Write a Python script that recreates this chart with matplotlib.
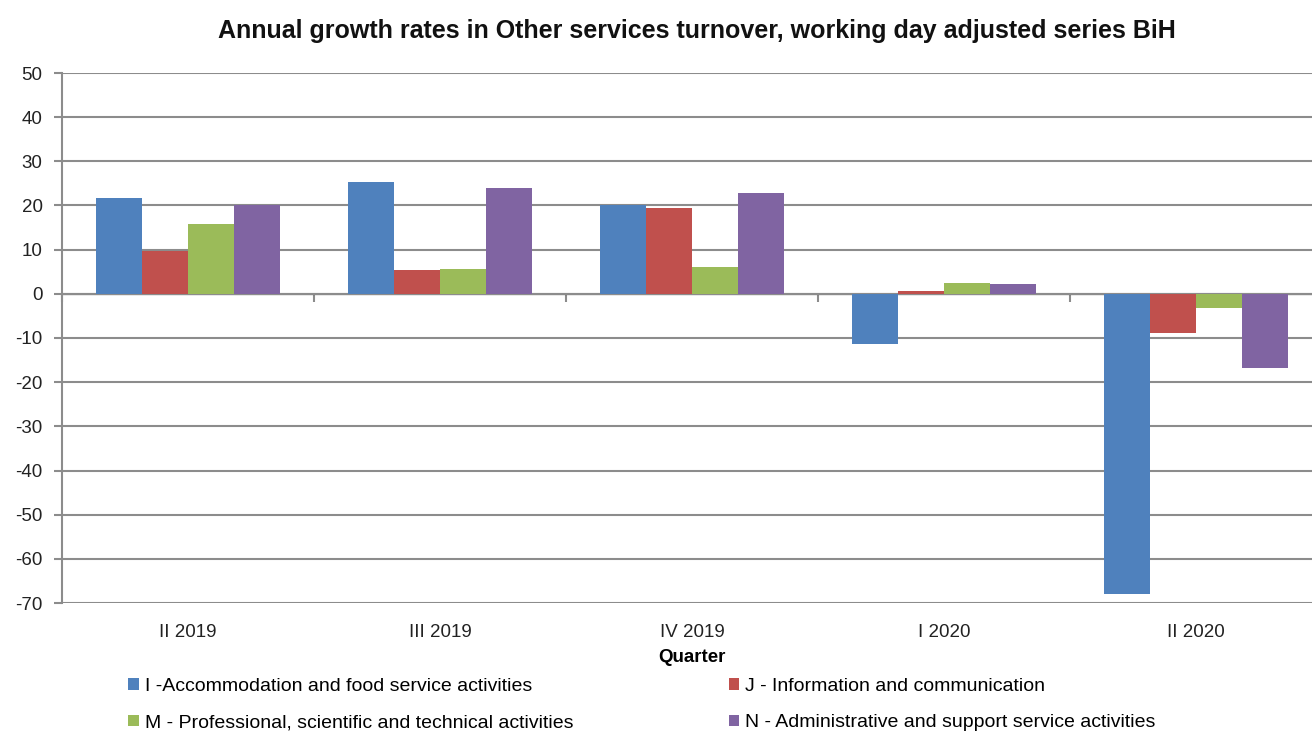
import matplotlib.pyplot as plt
import numpy as np

quarters = ['II 2019', 'III 2019', 'IV 2019', 'I 2020', 'II 2020']
series_names = ['I -Accommodation and food service activities',
                'J - Information and communication',
                'M - Professional, scientific and technical activities',
                'N - Administrative and support service activities']
accommodation = [21.6, 25.4, 20.1, -11.3, -67.9]
information = [9.8, 5.4, 19.4, 0.6, -8.8]
professional = [15.8, 5.6, 6.0, 2.5, -3.3]
administrative = [20.0, 24.0, 22.8, 2.3, -16.9]
colors = ['#4F81BD', '#C0504D', '#9BBB59', '#8064A2']

plt.rcParams['font.family'] = ['Liberation Sans', 'DejaVu Sans']
plt.rcParams['axes.unicode_minus'] = False

fig = plt.figure(figsize=(13.12, 7.33), dpi=100)
W, H = 1312, 733
ax = fig.add_axes([62 / W, 130 / H, 1260 / W, 530 / H])

x = np.arange(len(quarters))
w = 0.1825
all_series = [accommodation, information, professional, administrative]
for i, vals in enumerate(all_series):
    ax.bar(x + (i - 1.5) * w, vals, w, color=colors[i], label=series_names[i], zorder=3)

ax.set_xlim(-0.5, 4.5)
ax.set_ylim(-70, 50)
ax.set_yticks(range(-70, 51, 10))
ax.grid(axis='y', color='#8c8c8c', linewidth=1.5, zorder=0)
ax.axhline(0, color='#8c8c8c', linewidth=1.5, zorder=2)

for s in ['top', 'right', 'bottom']:
    ax.spines[s].set_visible(False)
ax.spines['left'].set_color('#8c8c8c')
ax.spines['left'].set_linewidth(1.5)
ax.tick_params(axis='y', colors='#8c8c8c', length=6, width=1.5, labelcolor='#222222', labelsize=13.5, pad=8)

ax.set_xticks(x)
ax.set_xticklabels(quarters)
ax.tick_params(axis='x', length=0, labelsize=13.5, labelcolor='#222222', pad=15)

# category boundary ticks hanging below the zero line
sec = ax.secondary_xaxis(70 / 120)
sec.set_xticks(np.arange(-0.5, 5, 1))
sec.set_xticklabels([])
sec.tick_params(axis='x', direction='in', length=6, width=1.5, color='#8c8c8c')
sec.spines['bottom'].set_visible(False)

ax.set_xlabel('Quarter', fontsize=13.5, fontweight='bold', labelpad=6)

fig.text(697 / W, 1 - 31 / H, 'Annual growth rates in Other services turnover, working day adjusted series BiH',
         ha='center', va='center', fontsize=18, fontweight='bold', color='#111111')

handles, labels = ax.get_legend_handles_labels()
order = [0, 2, 1, 3]
leg = fig.legend([handles[i] for i in order], [labels[i] for i in order],
                 loc='upper left', bbox_to_anchor=(128 / W, 1 - 678 / H), ncol=2,
                 frameon=False, fontsize=14, handlelength=0.55, handleheight=0.55,
                 handletextpad=0.3, columnspacing=8, labelspacing=1.0, borderaxespad=0,
                 borderpad=0)

fig.savefig('out.png', dpi=100)
